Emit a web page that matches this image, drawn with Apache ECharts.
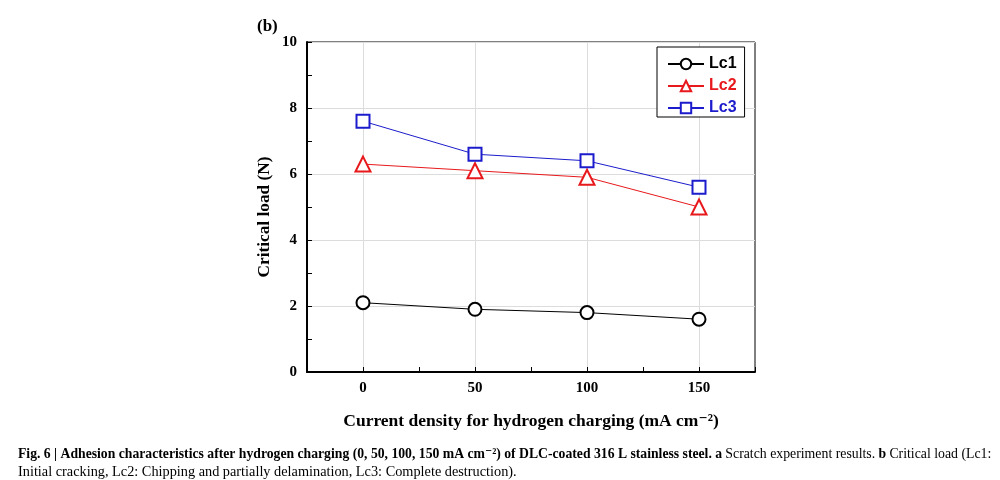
<!DOCTYPE html>
<html>
<head>
<meta charset="utf-8">
<script src="https://cdn.jsdelivr.net/npm/echarts@6/dist/echarts.min.js"></script>
<style>html,body{margin:0;padding:0;background:#fff}#c{width:1000px;height:480px}</style>
</head>
<body>
<div id="c"></div>
<script>
const xValues = [0, 50, 100, 150];
const lc1 = [2.1, 1.9, 1.8, 1.6];
const lc2 = [6.3, 6.1, 5.9, 5.0];
const lc3 = [7.6, 6.6, 6.4, 5.6];
const seriesNames = ['Lc1', 'Lc2', 'Lc3'];
const xTickLabels = ['0', '50', '100', '150'];

const serif = '"Liberation Serif", "DejaVu Serif", serif';
const sans = '"Liberation Sans", Arial, sans-serif';
const colors = ['#000000', '#e8191c', '#1c1ccc'];
const symbols = ['emptyCircle', 'emptyTriangle', 'emptyRect'];
const sizes = [13, 15, 13];
const datasets = [lc1, lc2, lc3];

const chart = echarts.init(document.getElementById('c'), null, {renderer: 'canvas'});
const option = {
  backgroundColor: '#fff',
  animation: false,
  grid: {left: 307, right: 245, top: 42, bottom: 108, show: true, borderColor: '#000', borderWidth: 1, containLabel: false},
  title: {text: '(b)', left: 252, top: 13, textStyle: {fontFamily: serif, fontWeight: 'bold', fontSize: 17, color: '#000'}},
  legend: {
    orient: 'vertical', left: 657, top: 47, width: 90,
    padding: [9, 8, 1, 10], itemGap: 6, itemWidth: 36, itemHeight: 13,
    borderColor: '#000', borderWidth: 1, backgroundColor: '#fff',
    textStyle: {fontFamily: sans, fontWeight: 'bold', fontSize: 16},
    data: seriesNames.map((n, i) => ({name: n, textStyle: {color: colors[i]}}))
  },
  xAxis: {
    type: 'value', min: -25, max: 175, interval: 25,
    name: 'Current density for hydrogen charging (mA cm\u207B\u00B2)',
    nameLocation: 'middle', nameGap: 40,
    nameTextStyle: {fontFamily: serif, fontWeight: 'bold', fontSize: 17.5, color: '#000'},
    axisLine: {show: true, onZero: false, lineStyle: {color: '#000', width: 2}},
    axisTick: {show: true, inside: true, length: 5, lineStyle: {color: '#000', width: 1}},
    axisLabel: {
      margin: 9, fontFamily: serif, fontWeight: 'bold', fontSize: 15, color: '#000',
      formatter: v => { const i = xValues.indexOf(v); return i >= 0 ? xTickLabels[i] : ''; }
    },
    splitLine: {show: true, lineStyle: {color: ['rgba(0,0,0,0)', '#dcdcdc'], width: 1}}
  },
  yAxis: {
    type: 'value', min: 0, max: 10, interval: 2,
    name: 'Critical load (N)', nameLocation: 'middle', nameGap: 34,
    nameTextStyle: {fontFamily: serif, fontWeight: 'bold', fontSize: 17.3, color: '#000', padding: [0, 20, 0, 0]},
    axisLine: {show: true, onZero: false, lineStyle: {color: '#000', width: 2}},
    axisTick: {show: true, inside: true, length: 5, lineStyle: {color: '#000', width: 1}},
    minorTick: {show: true, splitNumber: 2, length: 5, lineStyle: {color: '#000', width: 1}},
    axisLabel: {margin: 10, fontFamily: serif, fontWeight: 'bold', fontSize: 15, color: '#000'},
    splitLine: {show: true, lineStyle: {color: '#dcdcdc', width: 1}}
  },
  series: seriesNames.map((n, i) => ({
    name: n, type: 'line',
    data: xValues.map((x, j) => [x, datasets[i][j]]),
    symbol: symbols[i], symbolSize: sizes[i],
    lineStyle: {color: colors[i], width: 1},
    itemStyle: {color: colors[i], borderColor: colors[i], borderWidth: 1},
    z: 3
  })),
  graphic: [
    {type: 'text', left: 18, top: 447, style: {
      text: '{b|Fig. 6 | Adhesion characteristics after hydrogen charging (0, 50, 100, 150 mA cm\u207B\u00B2) of DLC-coated 316 L stainless steel.} {b|a} {r|Scratch experiment results.} {b|b} {r|Critical load (Lc1:}',
      rich: {
        b: {fontFamily: serif, fontWeight: 'bold', fontSize: 13.7, fill: '#000'},
        r: {fontFamily: serif, fontSize: 13.8, fill: '#000'}
      }
    }},
    {type: 'text', left: 18, top: 465, style: {
      text: 'Initial cracking, Lc2: Chipping and partially delamination, Lc3: Complete destruction).',
      fontFamily: serif, fontSize: 14.3, fill: '#000'
    }}
  ]
};
chart.setOption(option);
</script>
</body>
</html>
